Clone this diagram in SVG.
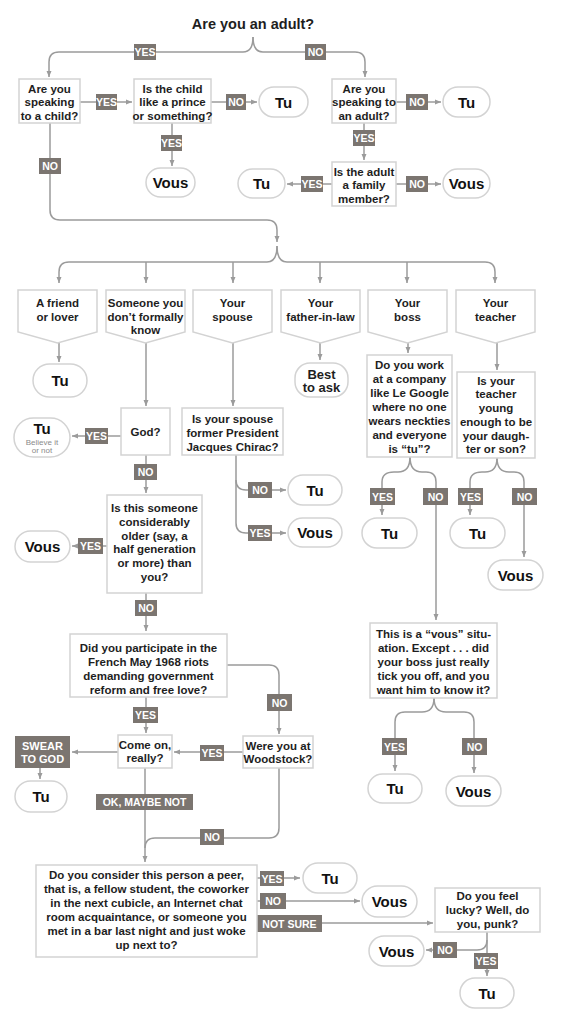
<svg xmlns="http://www.w3.org/2000/svg" width="570" height="1024" viewBox="0 0 570 1024">
<style>
.ln{fill:none;stroke:#9b9b9b;stroke-width:1.5}
.ar{marker-end:url(#ah)}
.bx{fill:#fff;stroke:#d3d3d3;stroke-width:1.5}
.t{font-family:"Liberation Sans",Arial,sans-serif;font-weight:bold;font-size:11.5px;fill:#1e1e1e;text-anchor:middle}
.tt{font-family:"Liberation Sans",Arial,sans-serif;font-weight:bold;font-size:15px;fill:#111;text-anchor:middle}
.sm{font-family:"Liberation Sans",Arial,sans-serif;font-size:8px;fill:#8a8a8a;text-anchor:middle}
.lb{fill:#7b7570}
.lt{font-family:"Liberation Sans",Arial,sans-serif;font-weight:bold;font-size:10.5px;fill:#fff;text-anchor:middle}
</style>
<defs>
<marker id="ah" viewBox="0 0 6 6" refX="6" refY="3" markerWidth="6" markerHeight="6" orient="auto" markerUnits="userSpaceOnUse"><path d="M0,0.5 L6,3 L0,5.5 z" fill="#9b9b9b"/></marker>
</defs>
<rect width="570" height="1024" fill="#fff"/>

<g id="connectors">
<path class="ln ar" d="M253,37 Q253,52 243,52 L59,52 Q49,52 49,62 L49,77"/>
<path class="ln ar" d="M253,37 Q253,52 263,52 L355,52 Q365,52 365,62 L365,77"/>
<path class="ln ar" d="M80,102 L132,102"/>
<path class="ln ar" d="M211,102 L257,102"/>
<path class="ln ar" d="M172,123 L172,166"/>
<path class="ln ar" d="M396,102 L441,102"/>
<path class="ln ar" d="M364,123 L364,160"/>
<path class="ln ar" d="M332,184 L287,184"/>
<path class="ln ar" d="M396,184 L441,184"/>
<path class="ln ar" d="M50,123 L50,210 Q50,220 60,220 L267,220 Q277,220 277,230 L277,242"/>
<path class="ln ar" d="M277,246 Q277,262 267,262 L69,262 Q59,262 59,272 L59,283"/>
<path class="ln ar" d="M277,246 Q277,262 287,262 L485,262 Q495,262 495,272 L495,283"/>
<path class="ln ar" d="M146,262 L146,283"/>
<path class="ln ar" d="M233,262 L233,283"/>
<path class="ln ar" d="M320,262 L320,283"/>
<path class="ln ar" d="M407,262 L407,283"/>
<path class="ln ar" d="M59,343 L59,362"/>
<path class="ln ar" d="M146,343 L146,406"/>
<path class="ln ar" d="M233,343 L233,406"/>
<path class="ln ar" d="M320,343 L320,360"/>
<path class="ln ar" d="M408,343 L408,353"/>
<path class="ln ar" d="M497,343 L497,370"/>
<path class="ln ar" d="M121,436 L72,436"/>
<path class="ln ar" d="M146,455 L146,493"/>
<path class="ln ar" d="M236,455 L236,480 Q236,490 246,490 L286,490"/>
<path class="ln ar" d="M236,480 L236,523 Q236,533 246,533 L286,533"/>
<path class="ln ar" d="M107,546 L72,546"/>
<path class="ln ar" d="M146,593 L146,631"/>
<path class="ln ar" d="M410,457 Q410,472 398,472 L394,472 Q382,472 382,482 L382,515"/>
<path class="ln ar" d="M410,457 Q410,472 422,472 L426,472 Q436,472 436,482 L436,620"/>
<path class="ln ar" d="M497,458 Q497,472 485,472 L482,472 Q470,472 470,482 L470,515"/>
<path class="ln ar" d="M497,458 Q497,472 509,472 L514,472 Q524,472 524,482 L524,557"/>
<path class="ln ar" d="M434,698 Q434,712 422,712 L405,712 Q395,712 395,722 L395,771"/>
<path class="ln ar" d="M434,698 Q434,712 446,712 L464,712 Q474,712 474,722 L474,773"/>
<path class="ln ar" d="M227,665 L269,665 Q279,665 279,675 L279,734"/>
<path class="ln ar" d="M146,697 L146,733"/>
<path class="ln ar" d="M243,752 L174,752"/>
<path class="ln ar" d="M118,752 L72,752"/>
<path class="ln ar" d="M40,768 L40,779"/>
<path class="ln ar" d="M145,768 L145,862"/>
<path class="ln" d="M279,768 L279,828 Q279,838 269,838 L155,838 Q145,838 145,848"/>
<path class="ln ar" d="M257,878 L300,878"/>
<path class="ln ar" d="M257,901 L360,901"/>
<path class="ln ar" d="M257,923 L433,923"/>
<path class="ln ar" d="M487,932 L487,940 Q487,950 477,950 L426,950"/>
<path class="ln ar" d="M487,940 L487,976"/>
</g>

<g id="labels">
<rect class="lb" x="134" y="44" width="22" height="16"/><text class="lt" x="145" y="56">YES</text>
<rect class="lb" x="305" y="44" width="21" height="16"/><text class="lt" x="315.5" y="56">NO</text>
<rect class="lb" x="96" y="94" width="21" height="16"/><text class="lt" x="106.5" y="106">YES</text>
<rect class="lb" x="226" y="94" width="20" height="16"/><text class="lt" x="236" y="106">NO</text>
<rect class="lb" x="161" y="135" width="21" height="16"/><text class="lt" x="171.5" y="147">YES</text>
<rect class="lb" x="39" y="158" width="22" height="16"/><text class="lt" x="50" y="170">NO</text>
<rect class="lb" x="406" y="94" width="22" height="16"/><text class="lt" x="417" y="106">NO</text>
<rect class="lb" x="353" y="130" width="22" height="16"/><text class="lt" x="364" y="142">YES</text>
<rect class="lb" x="301" y="176" width="22" height="16"/><text class="lt" x="312" y="188">YES</text>
<rect class="lb" x="406" y="176" width="22" height="16"/><text class="lt" x="417" y="188">NO</text>
<rect class="lb" x="85" y="428" width="23" height="16"/><text class="lt" x="96.5" y="440">YES</text>
<rect class="lb" x="134" y="464" width="23" height="16"/><text class="lt" x="145.5" y="476">NO</text>
<rect class="lb" x="248" y="482" width="24" height="16"/><text class="lt" x="260" y="494">NO</text>
<rect class="lb" x="248" y="525" width="24" height="16"/><text class="lt" x="260" y="537">YES</text>
<rect class="lb" x="78" y="538" width="25" height="16"/><text class="lt" x="90.5" y="550">YES</text>
<rect class="lb" x="135" y="600" width="22" height="16"/><text class="lt" x="146" y="612">NO</text>
<rect class="lb" x="370" y="488" width="25" height="17"/><text class="lt" x="382.5" y="500.5">YES</text>
<rect class="lb" x="423" y="488" width="25" height="17"/><text class="lt" x="435.5" y="500.5">NO</text>
<rect class="lb" x="458" y="488" width="25" height="17"/><text class="lt" x="470.5" y="500.5">YES</text>
<rect class="lb" x="512" y="488" width="25" height="17"/><text class="lt" x="524.5" y="500.5">NO</text>
<rect class="lb" x="267" y="694" width="25" height="17"/><text class="lt" x="279.5" y="706.5">NO</text>
<rect class="lb" x="133" y="707" width="25" height="16"/><text class="lt" x="145.5" y="719">YES</text>
<rect class="lb" x="200" y="745" width="24" height="16"/><text class="lt" x="212" y="757">YES</text>
<rect class="lb" x="96" y="794" width="97" height="16"/><text class="lt" x="144.5" y="806">OK, MAYBE NOT</text>
<rect class="lb" x="200" y="829" width="24" height="16"/><text class="lt" x="212" y="841">NO</text>
<rect class="lb" x="382" y="738" width="25" height="17"/><text class="lt" x="394.5" y="750.5">YES</text>
<rect class="lb" x="462" y="738" width="25" height="17"/><text class="lt" x="474.5" y="750.5">NO</text>
<rect class="lb" x="260" y="871" width="24" height="15"/><text class="lt" x="272" y="882.5">YES</text>
<rect class="lb" x="260" y="893" width="26" height="16"/><text class="lt" x="273" y="905">NO</text>
<rect class="lb" x="257" y="915" width="65" height="17"/><text class="lt" x="289.5" y="927.5">NOT SURE</text>
<rect class="lb" x="433" y="942" width="24" height="16"/><text class="lt" x="445" y="954">NO</text>
<rect class="lb" x="474" y="953" width="24" height="16"/><text class="lt" x="486" y="965">YES</text>
<rect class="lb" x="15" y="736" width="55" height="32"/><text class="lt" x="42.5" y="749.5" style="font-size:11px">SWEAR</text><text class="lt" x="42.5" y="763" style="font-size:11px">TO GOD</text>
</g>

<g id="n-title"><text class="t" x="253" y="29" style="font-size:14.5px">Are you an adult?</text></g>

<g id="n-child"><rect class="bx" x="19" y="79" width="61" height="44"/>
<text class="t" x="49.5" y="93">Are you</text><text class="t" x="49.5" y="106">speaking</text><text class="t" x="49.5" y="120">to a child?</text></g>
<g id="n-prince"><rect class="bx" x="134" y="79" width="77" height="44"/>
<text class="t" x="172.5" y="93">Is the child</text><text class="t" x="172.5" y="106">like a prince</text><text class="t" x="172.5" y="120">or something?</text></g>
<g id="n-tu1"><rect class="bx" x="259" y="87" width="49" height="30" rx="15"/><text class="tt" x="283.5" y="107.5">Tu</text></g>
<g id="n-vous1"><rect class="bx" x="146" y="168" width="49" height="29" rx="14.5"/><text class="tt" x="170.5" y="188">Vous</text></g>
<g id="n-adult"><rect class="bx" x="332" y="79" width="64" height="44"/>
<text class="t" x="364" y="93">Are you</text><text class="t" x="364" y="106">speaking to</text><text class="t" x="364" y="120">an adult?</text></g>
<g id="n-tu2"><rect class="bx" x="443" y="87" width="47" height="30" rx="15"/><text class="tt" x="466.5" y="107.5">Tu</text></g>
<g id="n-family"><rect class="bx" x="332" y="162" width="64" height="44"/>
<text class="t" x="364" y="176">Is the adult</text><text class="t" x="364" y="189">a family</text><text class="t" x="364" y="203">member?</text></g>
<g id="n-tu3"><rect class="bx" x="238" y="169" width="47" height="29" rx="14.5"/><text class="tt" x="261.5" y="189">Tu</text></g>
<g id="n-vous2"><rect class="bx" x="443" y="169" width="47" height="29" rx="14.5"/><text class="tt" x="466.5" y="189">Vous</text></g>

<g id="n-friend"><path class="bx" d="M18,290 h79 v42 l-39.5,11 l-39.5,-11 z"/>
<text class="t" x="57.5" y="307">A friend</text><text class="t" x="57.5" y="321">or lover</text></g>
<g id="n-someone"><path class="bx" d="M106,290 h79 v42 l-39.5,11 l-39.5,-11 z"/>
<text class="t" x="145.5" y="307">Someone you</text><text class="t" x="145.5" y="321">don’t formally</text><text class="t" x="145.5" y="334">know</text></g>
<g id="n-spouse"><path class="bx" d="M193,290 h79 v42 l-39.5,11 l-39.5,-11 z"/>
<text class="t" x="232.5" y="307">Your</text><text class="t" x="232.5" y="321">spouse</text></g>
<g id="n-fil"><path class="bx" d="M281,290 h79 v42 l-39.5,11 l-39.5,-11 z"/>
<text class="t" x="320.5" y="307">Your</text><text class="t" x="320.5" y="321">father-in-law</text></g>
<g id="n-boss"><path class="bx" d="M368,290 h79 v42 l-39.5,11 l-39.5,-11 z"/>
<text class="t" x="407.5" y="307">Your</text><text class="t" x="407.5" y="321">boss</text></g>
<g id="n-teacher"><path class="bx" d="M456,290 h79 v42 l-39.5,11 l-39.5,-11 z"/>
<text class="t" x="495.5" y="307">Your</text><text class="t" x="495.5" y="321">teacher</text></g>

<g id="n-tu4"><rect class="bx" x="33" y="364" width="54" height="33" rx="16.5"/><text class="tt" x="60" y="386">Tu</text></g>
<g id="n-best"><rect class="bx" x="295" y="363" width="53" height="34" rx="15"/>
<text class="t" x="321.5" y="378.5" style="font-size:13px">Best</text><text class="t" x="321.5" y="391.5" style="font-size:13px">to ask</text></g>
<g id="n-bossq"><rect class="bx" x="367" y="355" width="85" height="102"/>
<text class="t" x="409.5" y="369">Do you work</text><text class="t" x="409.5" y="383">at a company</text><text class="t" x="409.5" y="397">like Le Google</text><text class="t" x="409.5" y="411">where no one</text><text class="t" x="409.5" y="425">wears neckties</text><text class="t" x="409.5" y="439">and everyone</text><text class="t" x="409.5" y="453">is “tu”?</text></g>
<g id="n-teachq"><rect class="bx" x="457" y="372" width="78" height="86"/>
<text class="t" x="496" y="384.5">Is your</text><text class="t" x="496" y="398.3">teacher</text><text class="t" x="496" y="412">young</text><text class="t" x="496" y="425.8">enough to be</text><text class="t" x="496" y="439.6">your daugh-</text><text class="t" x="496" y="453.4">ter or son?</text></g>

<g id="n-god"><rect class="bx" x="121" y="408" width="49" height="47"/><text class="t" x="145.5" y="436">God?</text></g>
<g id="n-spouseq"><rect class="bx" x="182" y="408" width="101" height="47"/>
<text class="t" x="232.5" y="423">Is your spouse</text><text class="t" x="232.5" y="437">former President</text><text class="t" x="232.5" y="451">Jacques Chirac?</text></g>
<g id="n-tu5"><rect class="bx" x="14" y="418" width="56" height="39" rx="19.5"/>
<text class="tt" x="42" y="434">Tu</text><text class="sm" x="42" y="445">Believe it</text><text class="sm" x="42" y="453">or not</text></g>
<g id="n-tu6"><rect class="bx" x="288" y="475" width="54" height="30" rx="15"/><text class="tt" x="315" y="495.5">Tu</text></g>
<g id="n-vous3"><rect class="bx" x="288" y="518" width="54" height="29" rx="14.5"/><text class="tt" x="315" y="538">Vous</text></g>
<g id="n-older"><rect class="bx" x="107" y="495" width="95" height="98"/>
<text class="t" x="154.5" y="512">Is this someone</text><text class="t" x="154.5" y="526">considerably</text><text class="t" x="154.5" y="539.5">older (say, a</text><text class="t" x="154.5" y="553">half generation</text><text class="t" x="154.5" y="567">or more) than</text><text class="t" x="154.5" y="581">you?</text></g>
<g id="n-vous4"><rect class="bx" x="15" y="531" width="55" height="31" rx="15.5"/><text class="tt" x="42.5" y="551.5">Vous</text></g>
<g id="n-tu7"><rect class="bx" x="362" y="518" width="55" height="30" rx="15"/><text class="tt" x="389.5" y="538.5">Tu</text></g>
<g id="n-tu8"><rect class="bx" x="450" y="518" width="55" height="30" rx="15"/><text class="tt" x="477.5" y="538.5">Tu</text></g>
<g id="n-vous5"><rect class="bx" x="488" y="560" width="55" height="30" rx="15"/><text class="tt" x="515.5" y="580.5">Vous</text></g>

<g id="n-vsit"><rect class="bx" x="370" y="623" width="127" height="75"/>
<text class="t" x="433.5" y="638">This is a “vous” situ-</text><text class="t" x="433.5" y="652">ation. Except . . . did</text><text class="t" x="433.5" y="666">your boss just really</text><text class="t" x="433.5" y="680">tick you off, and you</text><text class="t" x="433.5" y="694">want him to know it?</text></g>
<g id="n-tu9"><rect class="bx" x="368" y="774" width="54" height="29" rx="14.5"/><text class="tt" x="395" y="794">Tu</text></g>
<g id="n-vous6"><rect class="bx" x="446" y="776" width="55" height="30" rx="15"/><text class="tt" x="473.5" y="796.5">Vous</text></g>

<g id="n-did"><rect class="bx" x="70" y="634" width="157" height="63"/>
<text class="t" x="148.5" y="651.5">Did you participate in the</text><text class="t" x="148.5" y="665.5">French May 1968 riots</text><text class="t" x="148.5" y="679.5">demanding government</text><text class="t" x="148.5" y="693.5">reform and free love?</text></g>
<g id="n-wood"><rect class="bx" x="243" y="736" width="70" height="32"/>
<text class="t" x="278" y="750">Were you at</text><text class="t" x="278" y="763">Woodstock?</text></g>
<g id="n-comeon"><rect class="bx" x="118" y="735" width="54" height="33"/>
<text class="t" x="145" y="749">Come on,</text><text class="t" x="145" y="762">really?</text></g>
<g id="n-tu10"><rect class="bx" x="15" y="781" width="52" height="31" rx="15.5"/><text class="tt" x="41" y="801.5">Tu</text></g>

<g id="n-peer"><rect class="bx" x="36" y="865" width="221" height="92"/>
<text class="t" x="146.5" y="879">Do you consider this person a peer,</text><text class="t" x="146.5" y="893">that is, a fellow student, the coworker</text><text class="t" x="146.5" y="907">in the next cubicle, an Internet chat</text><text class="t" x="146.5" y="921">room acquaintance, or someone you</text><text class="t" x="146.5" y="935">met in a bar last night and just woke</text><text class="t" x="146.5" y="949">up next to?</text></g>
<g id="n-tu11"><rect class="bx" x="303" y="863" width="54" height="30" rx="15"/><text class="tt" x="330" y="883.5">Tu</text></g>
<g id="n-vous7"><rect class="bx" x="362" y="886" width="55" height="31" rx="15.5"/><text class="tt" x="389.5" y="906.5">Vous</text></g>
<g id="n-lucky"><rect class="bx" x="435" y="888" width="105" height="44"/>
<text class="t" x="487.5" y="900">Do you feel</text><text class="t" x="487.5" y="914">lucky? Well, do</text><text class="t" x="487.5" y="927.5">you, punk?</text></g>
<g id="n-vous8"><rect class="bx" x="369" y="936" width="55" height="30" rx="15"/><text class="tt" x="396.5" y="956.5">Vous</text></g>
<g id="n-tu12"><rect class="bx" x="460" y="978" width="54" height="30" rx="15"/><text class="tt" x="487" y="998.5">Tu</text></g>
</svg>
